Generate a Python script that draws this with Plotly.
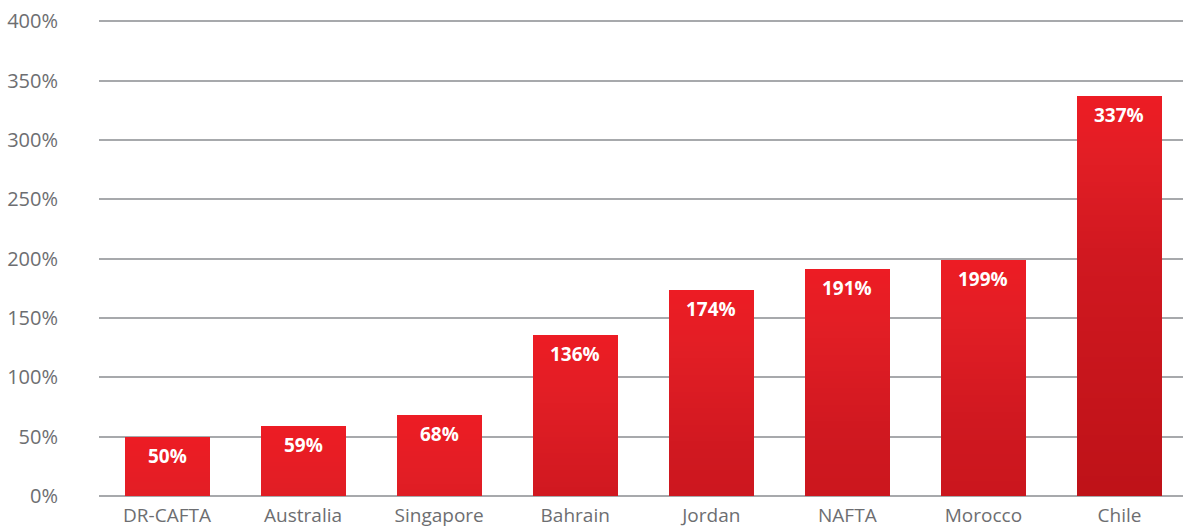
import plotly.graph_objects as go

# Categories and values (percent)
agreements = ["DR-CAFTA", "Australia", "Singapore", "Bahrain", "Jordan", "NAFTA", "Morocco", "Chile"]
growth_pct = [50, 59, 68, 136, 174, 191, 199, 337]
y_ticks = [0, 50, 100, 150, 200, 250, 300, 350, 400]

# Vertical shading of each bar: colour as a function of distance (in %) below the bar top
shade_stops = [(0, (237, 28, 36)), (50, (226, 30, 37)), (136, (208, 24, 32)), (337, (190, 18, 24))]
SLICE = 2.0


def shade(depth):
    for (d0, c0), (d1, c1) in zip(shade_stops, shade_stops[1:]):
        if depth <= d1:
            t = (depth - d0) / (d1 - d0)
            return "rgb(%d,%d,%d)" % tuple(round(a + (b - a) * t) for a, b in zip(c0, c1))
    return "rgb(%d,%d,%d)" % shade_stops[-1][1]


sx, sy, sbase, scol = [], [], [], []
for cat, v in zip(agreements, growth_pct):
    depth = 0.0
    while depth < v:
        top = v - depth
        bottom = max(0.0, top - SLICE - 1.0)  # small overlap hides seams
        sx.append(cat)
        sbase.append(bottom)
        sy.append(top - bottom)
        scol.append(shade(depth + SLICE / 2))
        depth += SLICE

fig = go.Figure()
fig.add_trace(go.Bar(
    x=sx, y=sy, base=sbase,
    marker=dict(color=scol, line=dict(width=0)),
    width=0.625, hoverinfo="skip", showlegend=False, cliponaxis=False,
))

for cat, v in zip(agreements, growth_pct):
    fig.add_annotation(
        x=cat, y=v, text=f"<b>{v}%</b>", showarrow=False,
        yanchor="middle", yshift=-19,
        font=dict(family="Open Sans", size=19, color="white"),
    )

fig.update_layout(
    width=1183, height=529,
    margin=dict(l=99, r=0, t=19, b=33),
    paper_bgcolor="white", plot_bgcolor="white",
    barmode="overlay", bargap=0,
    font=dict(family="Open Sans", color="#6D6E71"),
    xaxis=dict(
        categoryorder="array", categoryarray=agreements, automargin=False,
        range=[-0.5, 7.467], showgrid=False, showline=False, zeroline=False,
        ticks="outside", ticklen=2, tickcolor="rgba(0,0,0,0)",
        tickfont=dict(size=19, color="#6D6E71"),
    ),
    yaxis=dict(
        range=[0, 402], tickvals=y_ticks, ticktext=[f"{t}%" for t in y_ticks],
        automargin=False,
        showgrid=True, gridcolor="#A7A9AC", gridwidth=1.5,
        zeroline=True, zerolinecolor="#A7A9AC", zerolinewidth=1.5,
        showline=False, ticks="outside", ticklen=36, tickcolor="rgba(0,0,0,0)",
        tickfont=dict(size=20, color="#6D6E71"),
    ),
)

fig.write_html("out.html")
